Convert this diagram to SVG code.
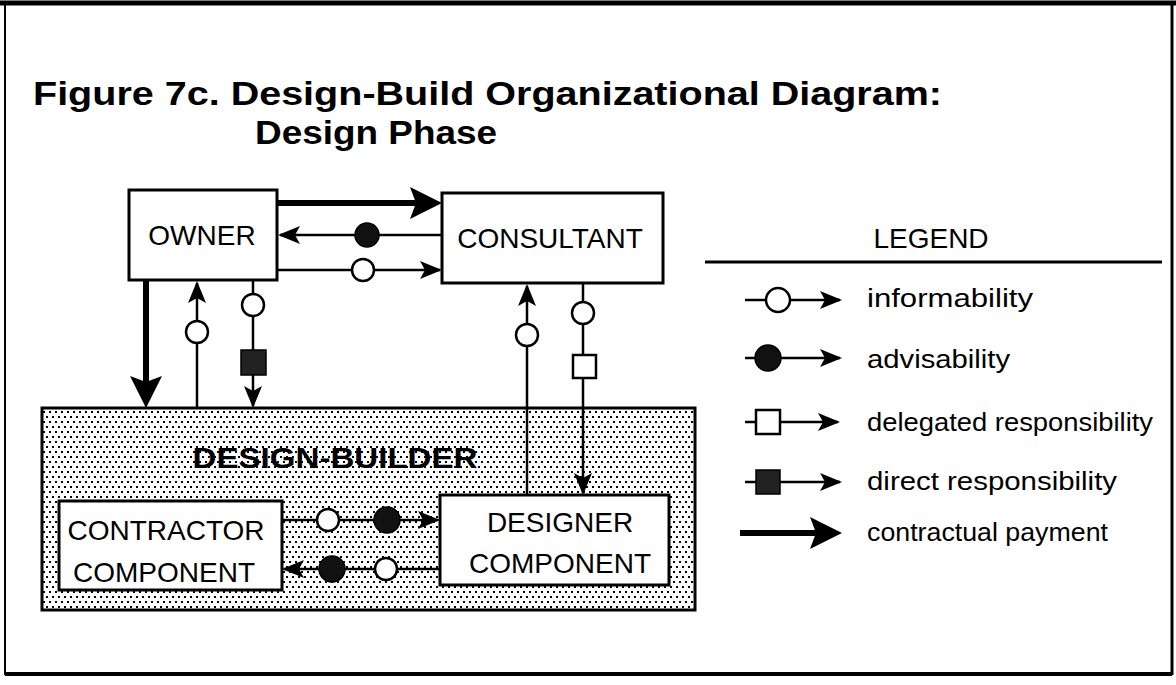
<svg xmlns="http://www.w3.org/2000/svg" width="1176" height="685" viewBox="0 0 1176 685">
<style>
.ln{fill:none;stroke:#000;stroke-width:2.5}
.pay{fill:none;stroke:#000;stroke-width:6}
.box{fill:#fff;stroke:#000;stroke-width:3}
.oc{fill:#fff;stroke:#000;stroke-width:2.5}
.fc{fill:#111;stroke:#000;stroke-width:1.5}
.os{fill:#fff;stroke:#000;stroke-width:2.5}
.fs{fill:#222;stroke:#000;stroke-width:1.5}
.lbl{font-family:"Liberation Sans",Arial,sans-serif;font-size:28px;fill:#000;text-anchor:middle}
.ttl{font-family:"Liberation Sans",Arial,sans-serif;font-size:33px;font-weight:bold;fill:#000}
.leg{font-family:"Liberation Sans",Arial,sans-serif;font-size:26px;fill:#000}
</style>
<defs>
<pattern id="dots" width="6" height="10" patternUnits="userSpaceOnUse">
<rect x="0" y="0" width="6" height="10" fill="#fff"/>
<rect x="1" y="1" width="2" height="2" fill="#000"/>
<rect x="4" y="6" width="2" height="2" fill="#000"/>
</pattern>
<marker id="ah" viewBox="0 0 22 18" markerWidth="22" markerHeight="18" refX="20" refY="9" orient="auto" markerUnits="userSpaceOnUse">
<path d="M0,0 L22,9 L0,18 L5,9 Z" fill="#000"/>
</marker>
<marker id="ahBig" viewBox="0 0 32 32" markerWidth="32" markerHeight="32" refX="24" refY="16" orient="auto" markerUnits="userSpaceOnUse">
<path d="M0,0 L32,16 L0,32 L6,16 Z" fill="#000"/>
</marker>
</defs>
<rect width="1176" height="685" fill="#fff"/>
<g id="frame" fill="none" stroke="#000">
<path d="M0,3 H1176" stroke-width="5"/>
<path d="M5,3 V675" stroke-width="2"/>
<path d="M1172,3 V675" stroke-width="3"/>
<path d="M5,674 H1172" stroke-width="4"/>
</g>
<g id="title">
<text class="ttl" x="33" y="105" textLength="909" lengthAdjust="spacingAndGlyphs">Figure 7c.  Design-Build Organizational Diagram:</text>
<text class="ttl" x="255" y="144" textLength="242" lengthAdjust="spacingAndGlyphs">Design Phase</text>
</g>
<g id="design-builder">
<rect x="42" y="408" width="653" height="202" fill="url(#dots)" stroke="#000" stroke-width="3"/>
<text x="335" y="468" font-family="Liberation Sans,Arial,sans-serif" font-size="30" font-weight="bold" fill="#000" text-anchor="middle" textLength="285" lengthAdjust="spacingAndGlyphs">DESIGN-BUILDER</text>
</g>
<g id="owner">
<rect class="box" x="129" y="190" width="148" height="90"/>
<text class="lbl" x="202" y="245">OWNER</text>
</g>
<g id="consultant">
<rect class="box" x="442" y="193" width="221" height="90"/>
<text class="lbl" x="550" y="248">CONSULTANT</text>
</g>
<g id="contractor-component">
<rect class="box" x="59" y="501" width="223" height="89"/>
<text class="lbl" x="166" y="540">CONTRACTOR</text>
<text class="lbl" x="164" y="582">COMPONENT</text>
</g>
<g id="designer-component">
<rect class="box" x="440" y="495" width="229" height="90"/>
<text class="lbl" x="560" y="532">DESIGNER</text>
<text class="lbl" x="560" y="573">COMPONENT</text>
</g>
<g id="connectors">
<path class="pay" d="M277,203 H434" marker-end="url(#ahBig)"/>
<path class="ln" d="M442,235 H280" marker-end="url(#ah)"/>
<circle class="fc" cx="367" cy="235" r="12"/>
<path class="ln" d="M277,270 H440" marker-end="url(#ah)"/>
<circle class="oc" cx="363" cy="270" r="11"/>
<path class="pay" d="M146,281 V400" marker-end="url(#ahBig)"/>
<path class="ln" d="M197,408 V283" marker-end="url(#ah)"/>
<circle class="oc" cx="197" cy="332" r="11"/>
<path class="ln" d="M253,281 V406" marker-end="url(#ah)"/>
<circle class="oc" cx="253" cy="305" r="11"/>
<rect class="fs" x="241" y="350" width="25" height="25"/>
<path class="ln" d="M527,495 V286" marker-end="url(#ah)"/>
<circle class="oc" cx="527" cy="335" r="11"/>
<path class="ln" d="M583,284 V493" marker-end="url(#ah)"/>
<circle class="oc" cx="583" cy="313" r="11"/>
<rect class="os" x="573" y="355" width="23" height="23"/>
<path class="ln" d="M282,520 H438" marker-end="url(#ah)"/>
<circle class="oc" cx="328" cy="520" r="11"/>
<circle class="fc" cx="387" cy="520" r="13"/>
<path class="ln" d="M440,569 H284" marker-end="url(#ah)"/>
<circle class="fc" cx="332" cy="569" r="13"/>
<circle class="oc" cx="386" cy="569" r="11"/>
</g>
<g id="legend">
<text class="lbl" x="931" y="248">LEGEND</text>
<path d="M705,262 H1162" stroke="#000" stroke-width="3"/>
<path class="ln" d="M745,300 H840" marker-end="url(#ah)"/>
<circle class="oc" cx="778" cy="300" r="12"/>
<text class="leg" x="867" y="307" textLength="166" lengthAdjust="spacingAndGlyphs">informability</text>
<path class="ln" d="M745,358 H840" marker-end="url(#ah)"/>
<circle class="fc" cx="768" cy="358" r="13"/>
<text class="leg" x="867" y="368" textLength="143" lengthAdjust="spacingAndGlyphs">advisability</text>
<path class="ln" d="M745,422 H838" marker-end="url(#ah)"/>
<rect class="os" x="756" y="410" width="24" height="24"/>
<text class="leg" x="867" y="431" textLength="286" lengthAdjust="spacingAndGlyphs">delegated responsibility</text>
<path class="ln" d="M745,482 H840" marker-end="url(#ah)"/>
<rect class="fs" x="756" y="470" width="24" height="24"/>
<text class="leg" x="867" y="490" textLength="250" lengthAdjust="spacingAndGlyphs">direct responsibility</text>
<path class="pay" d="M740,533 H834" marker-end="url(#ahBig)"/>
<text class="leg" x="867" y="541" textLength="241" lengthAdjust="spacingAndGlyphs">contractual payment</text>
</g>
</svg>
